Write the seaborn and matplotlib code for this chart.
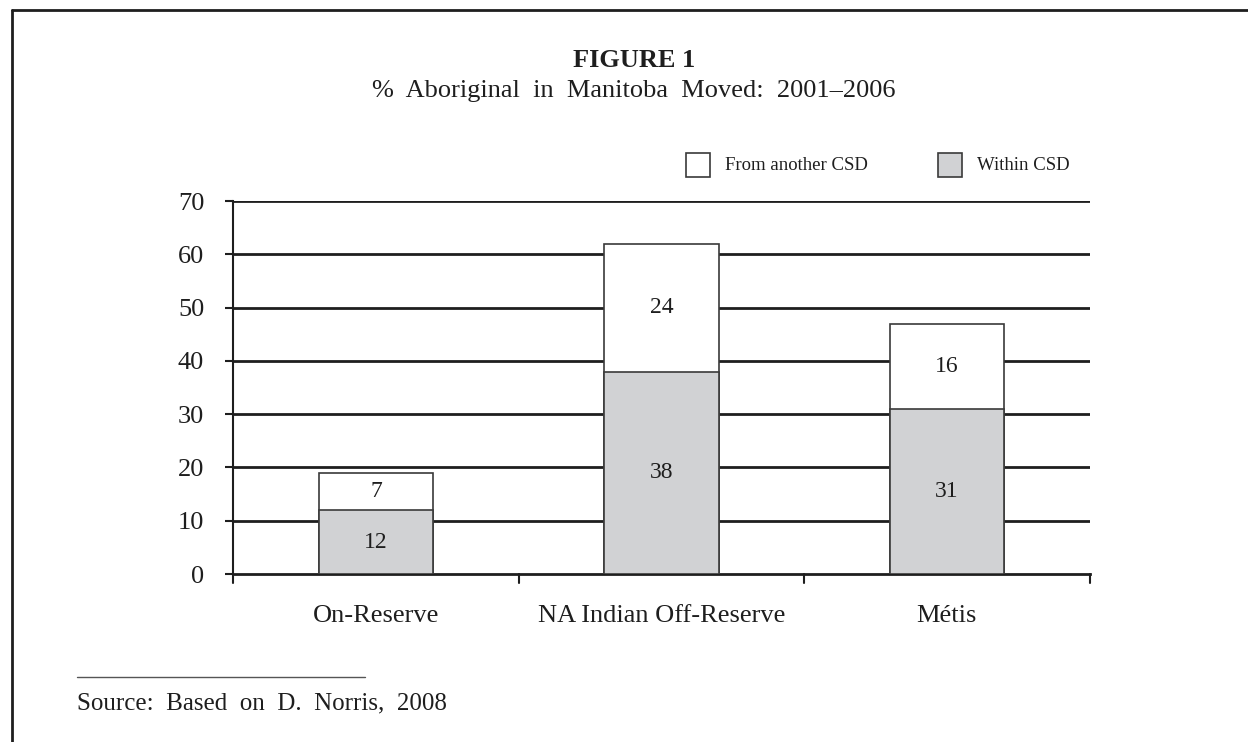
import pandas as pd
import matplotlib.pyplot as plt
import seaborn as sns
from matplotlib.patches import Rectangle
from matplotlib.lines import Line2D

# data
groups = ['On-Reserve', 'NA Indian Off-Reserve', 'Métis']
within_csd = [12, 38, 31]
from_other_csd = [7, 24, 16]
y_ticks = [0, 10, 20, 30, 40, 50, 60, 70]
legend_labels = ['From another CSD', 'Within CSD']

df = pd.DataFrame({'group': groups, 'within': within_csd, 'other': from_other_csd})
df['total'] = df['within'] + df['other']

sns.set_style('white')
plt.rcParams['font.family'] = ['Liberation Serif', 'DejaVu Serif']

fig = plt.figure(figsize=(12.48, 7.42), dpi=100)
ax = fig.add_axes([0.187, 0.2264, 0.686, 0.5026])

gray = '#d1d2d4'
edge = '#3a3a3a'
ink = '#1e1e1e'

# stacked bars: total in white, lower part in gray drawn over it
sns.barplot(data=df, x='group', y='total', color='white', edgecolor=edge,
            linewidth=1.2, width=0.4, saturation=1, ax=ax, zorder=3)
sns.barplot(data=df, x='group', y='within', color=gray, edgecolor=edge,
            linewidth=1.2, width=0.4, saturation=1, ax=ax, zorder=4)

for i, row in df.iterrows():
    ax.text(i, row['within'] / 2, str(row['within']), ha='center', va='center',
            fontsize=17, color=ink, zorder=5)
    ax.text(i, row['within'] + row['other'] / 2, str(row['other']),
            ha='center', va='center', fontsize=17, color=ink, zorder=5)

ax.set_xlim(-0.5, 2.5)
ax.set_ylim(0, 70)
ax.set_yticks(y_ticks)
ax.set_yticklabels([str(v) for v in y_ticks], fontsize=19, color=ink)
ax.set_xlabel('')
ax.set_ylabel('')
ax.set_xticks([0, 1, 2])
ax.set_xticklabels(groups, fontsize=19, color=ink)
ax.tick_params(axis='x', length=0, pad=22)
ax.tick_params(axis='y', direction='out', length=6, width=1.5, color=ink, left=True, pad=15)

for v in y_ticks[1:]:
    ax.axhline(v, color=ink, lw=2, zorder=1)
for x in [-0.5, 0.5, 1.5, 2.5]:
    ax.plot([x, x], [0, -1.6], color=ink, lw=1.5, clip_on=False)

for s in ['top', 'right']:
    ax.spines[s].set_visible(False)
ax.spines['left'].set_color(ink)
ax.spines['left'].set_linewidth(1.5)
ax.spines['bottom'].set_color(ink)
ax.spines['bottom'].set_linewidth(2)

# titles
fig.text(0.508, 0.919, 'FIGURE 1', ha='center', va='center', fontsize=19,
         fontweight='bold', color=ink)
fig.text(0.508, 0.877, '%  Aboriginal  in  Manitoba  Moved:  2001–2006', ha='center',
         va='center', fontsize=19, color=ink)

# legend drawn by hand at the top right
legend_x = [0.5497, 0.7516]
legend_colors = ['white', gray]
for x0, fc, lab in zip(legend_x, legend_colors, legend_labels):
    fig.add_artist(Rectangle((x0, 0.7615), 0.0192, 0.0323, facecolor=fc,
                             edgecolor=edge, lw=1.2, transform=fig.transFigure))
    fig.text(x0 + 0.031, 0.7776, lab, ha='left', va='center', fontsize=13.5, color=ink)

# source note
fig.add_artist(Line2D([0.0617, 0.2925], [0.0876, 0.0876], color='#555', lw=1))
fig.text(0.0617, 0.0526, 'Source:  Based  on  D.  Norris,  2008', ha='left', va='center',
         fontsize=18, color=ink)

# page frame
fig.add_artist(Line2D([0.0096, 1.0], [0.9865, 0.9865], color=ink, lw=2))
fig.add_artist(Line2D([0.0096, 0.0096], [0.0, 0.9865], color=ink, lw=2))

fig.savefig('out.png', dpi=100)
